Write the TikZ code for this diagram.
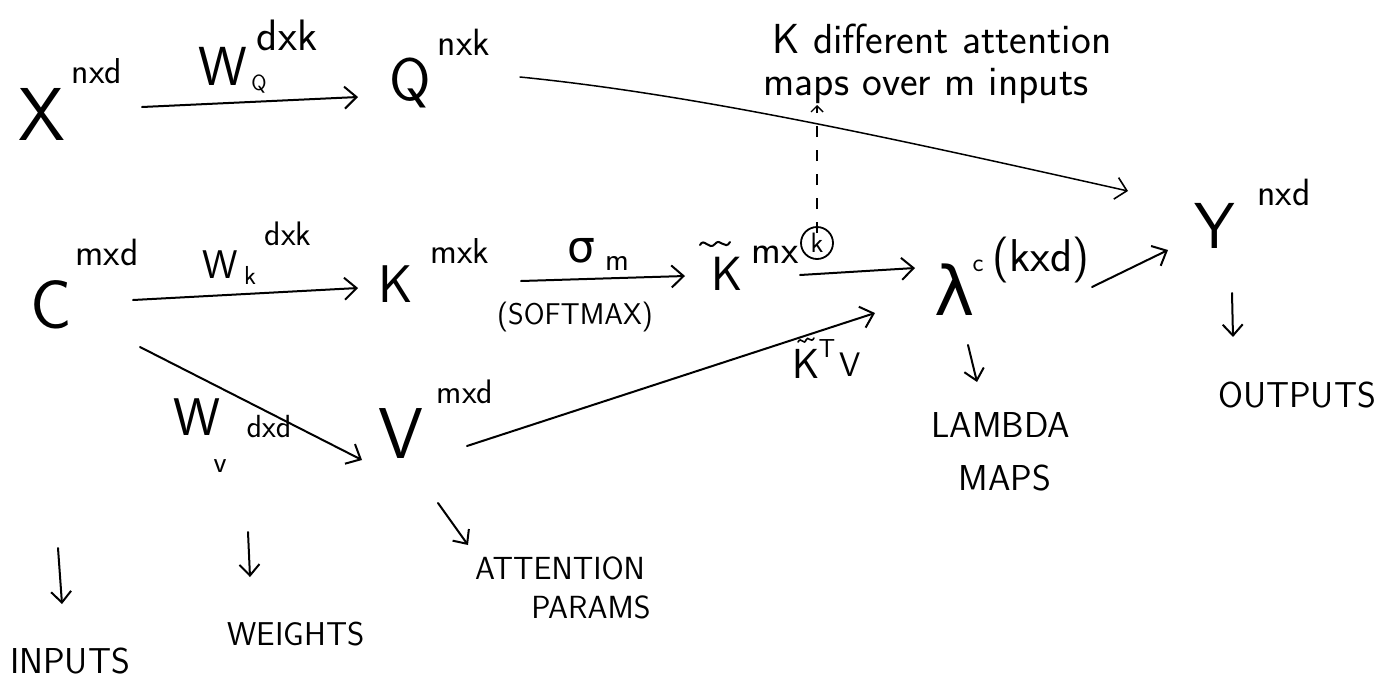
\documentclass[tikz,border=0pt]{standalone}
\usepackage{fontspec}
\newfontfamily\gk{DejaVu Sans}
\usetikzlibrary{arrows.meta}
\tikzset{
  txt/.style={inner sep=0pt, anchor=base, font=\fontsize{#1}{#1}\selectfont\sffamily},
  txtc/.style={inner sep=0pt, anchor=center, font=\fontsize{#1}{#1}\selectfont\sffamily},
  gtxt/.style={inner sep=0pt, anchor=base, font=\fontsize{#1}{#1}\selectfont\gk},
  conn/.style={line width=2pt, line cap=round, -{Straight Barb[length=12pt,width=22pt,line width=2pt]}},
  thinconn/.style={line width=1.5pt, line cap=round, -{Straight Barb[length=11pt,width=22pt,line width=1.6pt]}},
  downarr/.style={line width=2pt, line cap=round, -{Straight Barb[length=11pt,width=20pt,line width=2pt]}},
  dashconn/.style={line width=1.6pt, dash pattern=on 11pt off 13pt, -{Straight Barb[length=6pt,width=12pt,line width=1.4pt]}},
  accent/.style={line width=2pt, line cap=round}
}
\begin{document}
\begin{tikzpicture}[x=1pt,y=-1pt]
\fill[white] (0,0) rectangle (1400,686);
\useasboundingbox (0,0) rectangle (1400,686);

% ---- letters ----
\node[txt=75] (X) at (42,140) {X};
\node[txt=36] (Xs) at (97,83) {nxd};
\node[txt=55] (WQ) at (223,85) {W};
\node[txt=22] (WQsub) at (259,90) {Q};
\node[txt=44] (WQs) at (287,50) {dxk};
\node[txt=60] (Q) at (410,100) {Q};
\node[txt=38] (Qs) at (464,55) {nxk};

\node[txt=69] (C) at (51,328) {C};
\node[txt=38] (Cs) at (107,265) {mxd};
\node[txt=40] (WK) at (220,278) {W};
\node[txt=26] (WKsub) at (250,284) {k};
\node[txt=34] (WKs) at (288,245) {dxk};
\node[txt=53] (K) at (396,302) {K};
\node[txt=36] (Ks) at (460,263) {mxk};

\node[gtxt=44] (sig) at (581,262) {σ};
\node[txt=32] (sigsub) at (617,270) {m};
\node[txtc=30] (soft) at (575,317) {(SOFTMAX)};

\node[txt=48] (Kt) at (727,290) {K};
\draw[accent] (700,245) .. controls (704,237) and (709,251) .. (715,244) .. controls (720,237) and (725,251) .. (730,242);
\node[txt=40] (Kts) at (775,263) {mx};
\node[circle, draw, line width=1.8pt, minimum size=32pt, inner sep=0pt, font=\fontsize{28}{28}\selectfont\sffamily] (kc) at (817,243) {k};

\node[txt=72] (V) at (401,458) {V};
\node[txt=34] (Vs) at (465,403) {mxd};
\node[txt=53] (WV) at (197,435) {W};
\node[txt=30] (WVsub) at (220,472) {v};
\node[txt=32] (WVs) at (269,437) {dxd};

\node[txt=42] (KTV) at (806,378) {K};
\draw[accent, line width=1.6pt] (798,342) .. controls (801,336) and (804,346) .. (806,340) .. controls (808,335) and (811,344) .. (814,338);
\node[txt=26] (KTVt) at (827,357) {T};
\node[txt=34] (KTVv) at (850,376) {V};

\node[gtxt=68] (lam) at (955,315) {λ};
\node[txt=26] (lamc) at (978,271) {c};
\node[txtc=46] (lams) at (1041,260) {(kxd)};

\node[txt=65] (Y) at (1215,248) {Y};
\node[txt=38] (Ys) at (1284,205) {nxd};

% ---- notes and captions ----
\node[txt=42] (note1) at (942,53) {K different attention};
\node[txt=42] (note2) at (926,95) {maps over m inputs};
\node[txt=36] (inputs) at (70,673) {INPUTS};
\node[txt=33] (weights) at (296,645) {WEIGHTS};
\node[txtc=32] (attn) at (560,568) {ATTENTION};
\node[txtc=32] (params) at (591,607) {PARAMS};
\node[txt=36] (lambda) at (1001,437) {LAMBDA};
\node[txt=36] (maps) at (1005,490) {MAPS};
\node[txt=36] (outputs) at (1297,407) {OUTPUTS};

% ---- connector end points ----
\coordinate (xq1) at (142,107);  \coordinate (xq2) at (358,97);
\coordinate (ck1) at (133,300);  \coordinate (ck2) at (358,288);
\coordinate (cv1) at (140,347);  \coordinate (cv2) at (362,460);
\coordinate (kk1) at (521,281);  \coordinate (kk2) at (685,276);
\coordinate (kl1) at (800,275);  \coordinate (kl2) at (915,268);
\coordinate (vl1) at (467,446);  \coordinate (vl2) at (875,313);
\coordinate (ly1) at (1092,287); \coordinate (ly2) at (1168,250);
\coordinate (qy1) at (520,77);   \coordinate (qy2) at (1128,191);
\coordinate (dtop) at (817,105);
\coordinate (yo1) at (1232,293); \coordinate (yo2) at (1233,337);
\coordinate (lo1) at (968,345);  \coordinate (lo2) at (977,382);
\coordinate (io1) at (58,548);   \coordinate (io2) at (62,604);
\coordinate (wo1) at (248,532);  \coordinate (wo2) at (250,577);
\coordinate (ao1) at (438,503);  \coordinate (ao2) at (468,545);

% ---- connectors ----
\draw[conn] (xq1) -- (xq2);
\draw[conn] (ck1) -- (ck2);
\draw[conn] (cv1) -- (cv2);
\draw[conn] (kk1) -- (kk2);
\draw[conn] (kl1) -- (kl2);
\draw[conn] (vl1) -- (vl2);
\draw[conn] (ly1) -- (ly2);
\draw[thinconn] (qy1) .. controls (700,95) and (900,140) .. (qy2);
\draw[dashconn] ([yshift=-7pt]kc.north) -- (dtop);
\draw[downarr] (yo1) -- (yo2);
\draw[downarr] (lo1) -- (lo2);
\draw[downarr] (io1) -- (io2);
\draw[downarr] (wo1) -- (wo2);
\draw[downarr] (ao1) -- (ao2);
\end{tikzpicture}
\end{document}
